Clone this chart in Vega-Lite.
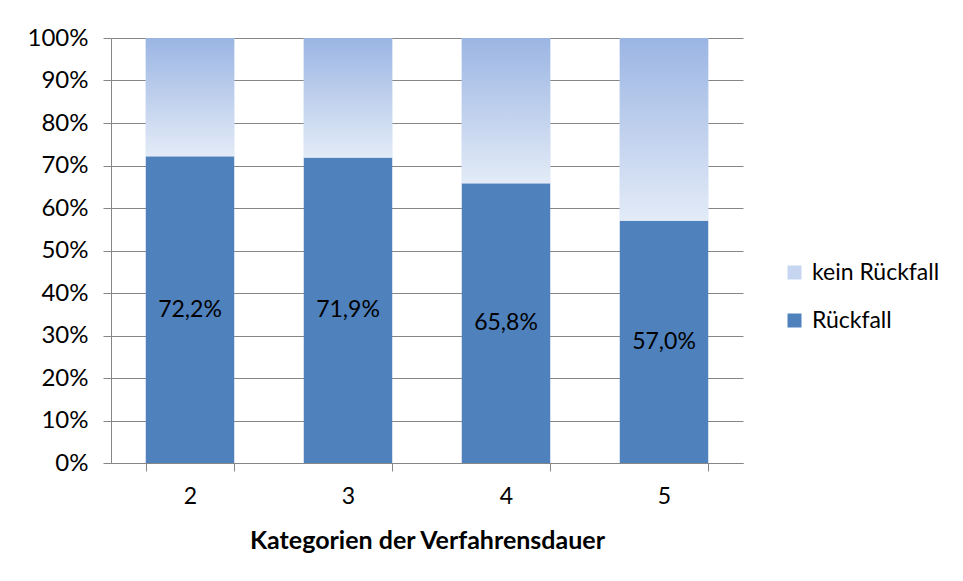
{
  "$schema": "https://vega.github.io/schema/vega-lite/v6.json",
  "width": 632,
  "height": 425,
  "autosize": {"type": "none"},
  "padding": {"left": 111, "top": 38, "right": 220, "bottom": 118},
  "config": {
    "locale": {"number": {"decimal": ",", "thousands": ".", "grouping": [3], "currency": ["", " €"]}},
    "view": {"stroke": null},
    "font": "Lato",
    "axis": {"labelColor": "#000000", "titleColor": "#000000", "labelFont": "Lato", "titleFont": "Lato"},
    "legend": {"labelFont": "Lato"}
  },
  "data": {
    "values": [
      {"kategorie": "2", "typ": "Rückfall", "anteil": 0.722},
      {"kategorie": "2", "typ": "kein Rückfall", "anteil": 0.278},
      {"kategorie": "3", "typ": "Rückfall", "anteil": 0.719},
      {"kategorie": "3", "typ": "kein Rückfall", "anteil": 0.281},
      {"kategorie": "4", "typ": "Rückfall", "anteil": 0.658},
      {"kategorie": "4", "typ": "kein Rückfall", "anteil": 0.342},
      {"kategorie": "5", "typ": "Rückfall", "anteil": 0.570},
      {"kategorie": "5", "typ": "kein Rückfall", "anteil": 0.430}
    ]
  },
  "encoding": {
    "x": {
      "field": "kategorie",
      "type": "ordinal",
      "scale": {"paddingInner": 0.44, "paddingOuter": 0.22},
      "axis": {
        "title": "Kategorien der Verfahrensdauer",
        "labelAngle": 0,
        "tickBand": "extent",
        "tickSize": 8,
        "tickColor": "#868686",
        "domainColor": "#868686",
        "labelFontSize": 23,
        "labelPadding": 14,
        "titleFontSize": 25,
        "titleFontWeight": "bold",
        "titlePadding": 20
      }
    }
  },
  "layer": [
    {
      "mark": {"type": "bar"},
      "encoding": {
        "y": {
          "field": "anteil",
          "type": "quantitative",
          "stack": "zero",
          "scale": {"domain": [0, 1], "nice": false},
          "axis": {
            "title": null,
            "format": ".0%",
            "values": [0, 0.1, 0.2, 0.3, 0.4, 0.5, 0.6, 0.7, 0.8, 0.9, 1],
            "grid": true,
            "gridColor": "#868686",
            "tickColor": "#868686",
            "domainColor": "#868686",
            "tickSize": 8,
            "labelPadding": 15,
            "labelFontSize": 24
          }
        },
        "color": {
          "field": "typ",
          "type": "nominal",
          "scale": {
            "domain": ["kein Rückfall", "Rückfall"],
            "range": ["#c6d5f0", "#4f81bd"]
          },
          "legend": {
            "title": null,
            "orient": "none",
            "legendX": 672,
            "legendY": 223,
            "symbolType": "square",
            "symbolSize": 196,
            "symbolStrokeWidth": 0,
            "labelFontSize": 23,
            "labelOffset": 6,
            "rowPadding": 24,
            "labelColor": "#000000"
          }
        },
        "order": {"field": "typ", "sort": "ascending"}
      }
    },
    {
      "mark": {
        "type": "bar",
        "fill": {"gradient": "linear", "x1": 0, "y1": 0, "x2": 0, "y2": 1, "stops": [{"offset": 0, "color": "#9bb5e3"}, {"offset": 1, "color": "#e3ebf7"}]}
      },
      "encoding": {
        "y": {"field": "anteil", "type": "quantitative", "stack": "zero"},
        "order": {"field": "typ", "sort": "ascending"},
        "fillOpacity": {"condition": {"test": "datum.typ === 'Rückfall'", "value": 0}, "value": 1}
      }
    },
    {
      "transform": [{"filter": "datum.typ === 'Rückfall'"}],
      "mark": {"type": "text", "fontSize": 23, "color": "#000000", "font": "Lato"},
      "encoding": {
        "y": {"field": "anteil", "type": "quantitative", "stack": "zero", "bandPosition": 0.5},
        "text": {"field": "anteil", "type": "quantitative", "format": ".1%"}
      }
    }
  ]
}
